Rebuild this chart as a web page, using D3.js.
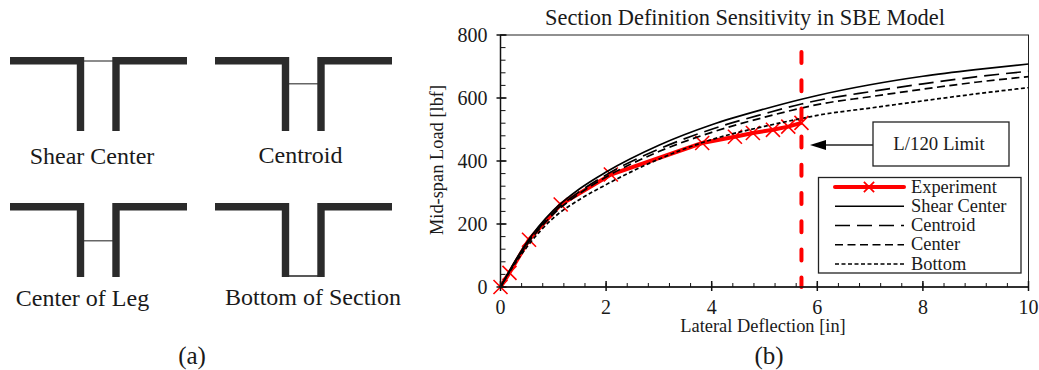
<!DOCTYPE html>
<html>
<head>
<meta charset="utf-8">
<script src="https://cdn.jsdelivr.net/npm/d3@7"></script>
<style>
  html, body { margin: 0; padding: 0; background: #fff; }
  svg { display: block; }
  text { font-family: "Liberation Serif", serif; fill: #1a1a1a; }
</style>
</head>
<body>
<div id="chart"></div>
<script>
'use strict'

// panel (a)
const sectionNames = ['Shear Center', 'Centroid', 'Center of Leg', 'Bottom of Section']
const linkDepths = [0, 0.33, 0.49, 1]

// panel (b)
const title = 'Section Definition Sensitivity in SBE Model'
const xLabel = 'Lateral Deflection [in]'
const yLabel = 'Mid-span Load [lbf]'
const xTicks = [0, 2, 4, 6, 8, 10]
const yTicks = [0, 200, 400, 600, 800]
const xMinorTicks = d3.range(0, 10.01, 0.4)
const yMinorTicks = d3.range(0, 800.01, 40)

const curveX = [0, 0.25, 0.5, 1, 1.5, 2, 3, 4, 5, 5.7, 6, 7, 8, 9, 10]
const shearCenter = [0, 75, 142, 243, 312, 365, 450, 515, 565, 596, 608, 642, 669, 690, 708]
const centroid = [0, 73, 138, 236, 303, 356, 438, 501, 550, 581, 592, 620, 645, 667, 685]
const center = [0, 72, 135, 231, 297, 349, 430, 491, 539, 568, 579, 604, 628, 650, 668]
const bottom = [0, 68, 127, 219, 278, 325, 406, 468, 510, 535, 545, 568, 591, 613, 633]

const expX = [0, 0.17, 0.54, 1.14, 2.09, 3.82, 4.44, 4.78, 5.16, 5.45, 5.7]
const expY = [0, 45, 150, 262, 357, 457, 477, 489, 499, 509, 521]
const limitX = 5.7
const limitText = 'L/120 Limit'

const legendNames = ['Experiment', 'Shear Center', 'Centroid', 'Center', 'Bottom']
const seriesDash = [null, null, '15,7', '8,4.5', '4,2.5']

const svg = d3.select('#chart').append('svg')
    .attr('width', 1039)
    .attr('height', 370)

////////////////////////////////////
//////////// panel (a) /////////////
////////////////////////////////////

const dark = '#2b2b2b'
const cellX = [10, 215]
const cellY = [57, 203]

sectionNames.forEach((name, i) => {
    const ox = cellX[i % 2], oy = cellY[Math.floor(i / 2)]
    const depth = d3.scaleLinear().domain([0, 1]).range([oy + 4, oy + 73])

    const g = svg.append('g').attr('class', 'section')

    // link between the two legs, drawn under the angles
    g.append('line')
        .attr('x1', ox + 70).attr('x2', ox + 106)
        .attr('y1', depth(linkDepths[i])).attr('y2', depth(linkDepths[i]))
        .attr('stroke', i == 3 ? '#222' : '#666')
        .attr('stroke-width', 1.5)

    const left = `M${ox},${oy + 3.7} H${ox + 70.5} V${oy + 74}`
    const right = `M${ox + 177},${oy + 3.7} H${ox + 106} V${oy + 74}`
    g.selectAll('path').data([left, right]).join('path')
        .attr('d', d => d)
        .attr('fill', 'none')
        .attr('stroke', dark)
        .attr('stroke-width', 7.4)
        .attr('stroke-linejoin', 'miter')
})

const labelPos = [[92, 164], [300.5, 163], [82.5, 306], [313, 305]]
sectionNames.forEach((name, i) => {
    svg.append('text')
        .attr('x', labelPos[i][0]).attr('y', labelPos[i][1])
        .attr('text-anchor', 'middle')
        .style('font-size', '24px')
        .text(name)
})

svg.append('text').attr('x', 192).attr('y', 364)
    .attr('text-anchor', 'middle').style('font-size', '25px').text('(a)')
svg.append('text').attr('x', 769).attr('y', 364)
    .attr('text-anchor', 'middle').style('font-size', '25px').text('(b)')

////////////////////////////////////
//////////// panel (b) /////////////
////////////////////////////////////

const x = d3.scaleLinear().domain([0, 10]).range([500.5, 1028.5])
const y = d3.scaleLinear().domain([0, 800]).range([287, 35])

// frame
svg.append('rect')
    .attr('x', x(0)).attr('y', y(800))
    .attr('width', x(10) - x(0)).attr('height', y(0) - y(800))
    .attr('fill', 'none').attr('stroke', '#222').attr('stroke-width', 1)

const lineGen = d3.line().curve(d3.curveMonotoneX)

// experiment goes under the model curves
const expPts = expX.map((d, i) => [x(d), y(expY[i])])
const expLine = d3.line().curve(d3.curveLinear)

svg.append('path')
    .attr('d', expLine(expPts))
    .attr('fill', 'none')
    .attr('stroke', '#ff0000')
    .attr('stroke-width', 4)

svg.selectAll('.exp-mark').data(expPts).join('path')
    .attr('class', 'exp-mark')
    .attr('transform', d => `translate(${d[0]},${d[1]})`)
    .attr('d', d3.symbol().type(d3.symbolX).size(130)())
    .attr('fill', 'none')
    .attr('stroke', '#ff0000')
    .attr('stroke-width', 1.6)

const curves = [shearCenter, centroid, center, bottom]
curves.forEach((vals, i) => {
    svg.append('path')
        .attr('d', lineGen(curveX.map((d, j) => [x(d), y(vals[j])])))
        .attr('fill', 'none')
        .attr('stroke', '#000')
        .attr('stroke-width', 1.7)
        .attr('stroke-dasharray', seriesDash[i + 1])
})

// limit line
svg.append('line')
    .attr('x1', x(limitX)).attr('x2', x(limitX))
    .attr('y1', y(800)).attr('y2', y(0))
    .attr('stroke', '#ff0000')
    .attr('stroke-width', 4)
    .attr('stroke-linecap', 'round')
    .attr('stroke-dasharray', '11,17.2')
    .attr('stroke-dashoffset', 11.2)

// ticks
const xAxis = svg.append('g').attr('transform', `translate(0,${y(0)})`)
xAxis.selectAll('.minor').data(xMinorTicks).join('line')
    .attr('class', 'minor')
    .attr('x1', d => x(d)).attr('x2', d => x(d))
    .attr('y1', 0).attr('y2', -4)
    .attr('stroke', '#111').attr('stroke-width', 1)
xAxis.selectAll('.major').data(xTicks).join('line')
    .attr('class', 'major')
    .attr('x1', d => x(d)).attr('x2', d => x(d))
    .attr('y1', 4).attr('y2', -6)
    .attr('stroke', '#111').attr('stroke-width', 1.5)
xAxis.append('line')
    .attr('x1', x(0)).attr('x2', x(10))
    .attr('stroke', '#111').attr('stroke-width', 1.5)
xAxis.selectAll('text').data(xTicks).join('text')
    .attr('x', d => x(d)).attr('y', 27)
    .attr('text-anchor', 'middle')
    .style('font-size', '20px')
    .text(d => d)

const yAxis = svg.append('g').attr('transform', `translate(${x(0)},0)`)
yAxis.selectAll('.minor').data(yMinorTicks).join('line')
    .attr('class', 'minor')
    .attr('y1', d => y(d)).attr('y2', d => y(d))
    .attr('x1', 0).attr('x2', 5)
    .attr('stroke', '#111').attr('stroke-width', 1)
yAxis.selectAll('.major').data(yTicks).join('line')
    .attr('class', 'major')
    .attr('y1', d => y(d)).attr('y2', d => y(d))
    .attr('x1', -4).attr('x2', 6)
    .attr('stroke', '#111').attr('stroke-width', 1.5)
yAxis.append('line')
    .attr('y1', y(0)).attr('y2', y(800))
    .attr('stroke', '#111').attr('stroke-width', 1.5)
yAxis.selectAll('text').data(yTicks).join('text')
    .attr('x', -13).attr('y', d => y(d) + 6.5)
    .attr('text-anchor', 'end')
    .style('font-size', '20px')
    .text(d => d)

svg.append('text').attr('x', 745).attr('y', 25)
    .attr('text-anchor', 'middle').style('font-size', '22.4px').text(title)
svg.append('text').attr('x', 763).attr('y', 332)
    .attr('text-anchor', 'middle').style('font-size', '18.4px').text(xLabel)
svg.append('text')
    .attr('transform', 'translate(443,160) rotate(-90)')
    .attr('text-anchor', 'middle').style('font-size', '18.4px').text(yLabel)

// L/120 callout
svg.append('line')
    .attr('x1', 873).attr('x2', 825).attr('y1', 145).attr('y2', 145)
    .attr('stroke', '#222').attr('stroke-width', 1.3)
svg.append('path').attr('d', 'M810,145 L826,140 L826,150 Z').attr('fill', '#000')

svg.append('rect')
    .attr('x', 873).attr('y', 122).attr('width', 136).attr('height', 44)
    .attr('fill', '#fff').attr('stroke', '#222').attr('stroke-width', 1.3)
svg.append('text').attr('x', 939).attr('y', 150)
    .attr('text-anchor', 'middle').style('font-size', '18.8px').text(limitText)

// legend
svg.append('rect')
    .attr('x', 818.5).attr('y', 177.5).attr('width', 202.5).attr('height', 95.5)
    .attr('fill', '#fff').attr('stroke', '#222').attr('stroke-width', 1.3)

const legendY = d3.scalePoint().domain(legendNames).range([187, 264])

legendNames.forEach((name, i) => {
    const ly = legendY(name)
    svg.append('line')
        .attr('x1', 835).attr('x2', 904).attr('y1', ly).attr('y2', ly)
        .attr('stroke', i == 0 ? '#ff0000' : '#000')
        .attr('stroke-width', i == 0 ? 4 : 1.7)
        .attr('stroke-dasharray', seriesDash[i])
        .attr('stroke-linecap', i == 0 ? 'round' : 'butt')
    if (i == 0) {
        svg.append('path')
            .attr('transform', `translate(869,${ly})`)
            .attr('d', d3.symbol().type(d3.symbolX).size(70)())
            .attr('fill', 'none')
            .attr('stroke', '#ff0000')
            .attr('stroke-width', 1.8)
    }
    svg.append('text')
        .attr('x', 911).attr('y', ly + 5.5)
        .style('font-size', '18.4px')
        .text(name)
})
</script>
</body>
</html>
